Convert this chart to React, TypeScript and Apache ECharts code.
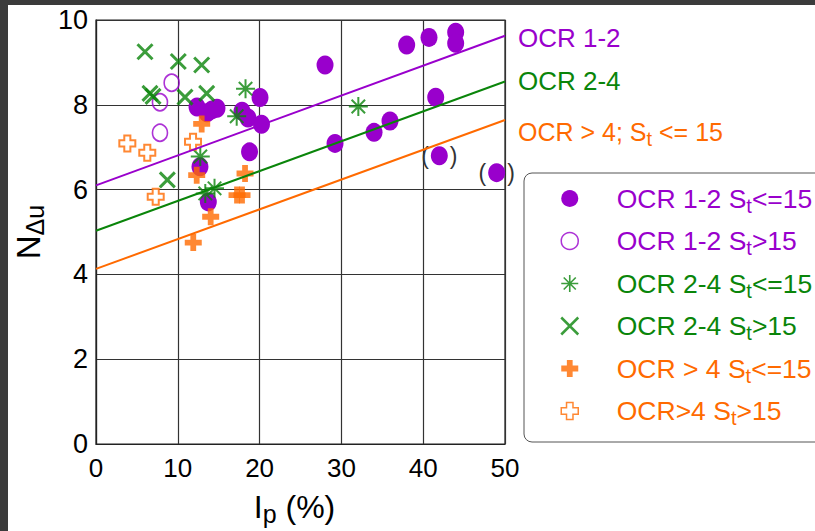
import React, { useEffect, useRef } from 'react';
import * as echarts from 'echarts';

const PURPLE = '#9900cc';
const GREEN = '#0a850a';
const ORANGE = '#ff6a00';
const FONT = '"Liberation Sans", Arial, sans-serif';

const xTickValues = [0, 10, 20, 30, 40, 50];
const yTickValues = [0, 2, 4, 6, 8, 10];

// OCR 1-2, St <= 15 (filled circles)
const ocr12Low: number[][] = [
  [12.35, 7.95], [13.57, 7.81], [14.18, 7.88], [14.79, 7.92], [17.85, 7.85],
  [18.58, 7.69], [20.05, 8.17], [20.23, 7.54], [18.77, 6.89], [12.71, 6.54],
  [13.73, 5.71], [28.0, 8.94], [37.98, 9.41], [40.71, 9.59], [43.97, 9.71],
  [43.97, 9.45], [41.53, 8.18], [29.22, 7.09], [33.99, 7.35], [35.94, 7.62],
];
// OCR 1-2, St <= 15, points shown in parentheses
const ocr12LowParen: number[][] = [[41.97, 6.8], [48.98, 6.4]];
// OCR 1-2, St > 15 (open circles)
const ocr12High: number[][] = [[9.25, 8.52], [7.82, 8.06], [7.82, 7.34]];
// OCR 2-4, St <= 15 (asterisks)
const ocr24Low: number[][] = [
  [18.28, 8.38], [17.2, 7.73], [12.75, 6.78], [13.36, 5.91], [14.49, 6.03], [32.07, 7.96],
];
// OCR 2-4, St > 15 (crosses)
const ocr24High: number[][] = [
  [5.99, 9.25], [10.06, 9.02], [12.92, 8.94], [6.6, 8.27], [6.97, 8.2],
  [10.88, 8.18], [13.53, 8.27], [8.72, 6.23],
];
// OCR > 4, St <= 15 (filled plus)
const ocr4Low: number[][] = [
  [12.92, 7.55], [12.31, 6.34], [18.22, 6.38], [17.24, 5.87], [17.85, 5.87],
  [14.02, 5.36], [11.89, 4.75],
];
// OCR > 4, St > 15 (open plus)
const ocr4High: number[][] = [[3.83, 7.09], [6.27, 6.87], [7.3, 5.83], [11.86, 7.13]];

// trend lines
const trend12: number[][] = [[0, 6.1], [50, 9.63]];
const trend24: number[][] = [[0, 5.03], [50, 8.55]];
const trend4: number[][] = [[0, 4.13], [50, 7.64]];

const seriesNames = [
  'OCR 1-2 St<=15',
  'OCR 1-2 St>15',
  'OCR 2-4 St<=15',
  'OCR 2-4 St>15',
  'OCR > 4 St<=15',
  'OCR>4 St>15',
];

const X_PATH = 'path://M0,0L10,10M10,0L0,10';
const AST_PATH = 'path://M5,0L5,10M0,5L10,5M1.46,1.46L8.54,8.54M8.54,1.46L1.46,8.54';
const PLUS_PATH = 'path://M3.3,0H6.7V3.3H10V6.7H6.7V10H3.3V6.7H0V3.3H3.3Z';
const OPEN_PLUS_PATH = 'path://M3.1,0H6.9V3.1H10V6.9H6.9V10H3.1V6.9H0V3.1H3.1Z';

const subStyle = (color: string, fontSize: number, drop: number) => ({
  color, fontSize, lineHeight: 10, fontFamily: FONT, verticalAlign: 'top', padding: [drop, 0, 0, 0],
});

function buildOption(): any {
  const keys = ['p', 'p', 'g', 'g', 'o', 'o'];
  const cols: Record<string, string> = { p: PURPLE, g: GREEN, o: ORANGE };
  const legendRich: Record<string, any> = {};
  Object.keys(cols).forEach((k) => {
    legendRich[k + '0'] = {
      color: cols[k], fontSize: 26.5, lineHeight: 26, fontFamily: FONT,
      padding: [0, 0, 0, 32], verticalAlign: 'middle',
    };
    legendRich[k] = { color: cols[k], fontSize: 26.5, lineHeight: 26, fontFamily: FONT, verticalAlign: 'middle' };
    legendRich[k + 's'] = subStyle(cols[k], 20, 10);
  });

  const legendIcons: any[] = [
    { icon: 'circle', itemStyle: { color: PURPLE, borderWidth: 0 } },
    { icon: 'circle', itemStyle: { color: '#fff', borderColor: PURPLE, borderWidth: 1.5 } },
    { icon: AST_PATH, itemStyle: { color: GREEN, borderColor: GREEN, borderWidth: 1.6 } },
    { icon: X_PATH, itemStyle: { color: GREEN, borderColor: GREEN, borderWidth: 2.5 } },
    { icon: PLUS_PATH, itemStyle: { color: ORANGE, borderWidth: 0 } },
    { icon: OPEN_PLUS_PATH, itemStyle: { color: '#fff', borderColor: ORANGE, borderWidth: 1.5 } },
  ];

  const parenRich = {
    q: { color: '#333', fontSize: 23, fontFamily: FONT },
    gap: { width: 21 },
  };

  const endLabel = (fmt: string, color: string, offsetY: number, fs: number) => ({
    show: true,
    formatter: fmt,
    distance: 13,
    offset: [0, offsetY],
    color,
    fontSize: fs,
    fontFamily: FONT,
    rich: {
      m: { color, fontSize: fs, lineHeight: 26, fontFamily: FONT, verticalAlign: 'middle' },
      s: subStyle(color, 20, 10),
    },
  });

  return {
    animation: false,
    backgroundColor: '#ffffff',
    textStyle: { fontFamily: FONT },
    grid: {
      left: 88, top: 15, width: 409, height: 424,
      containLabel: false,
      outerBoundsMode: 'none',
      show: true, borderColor: '#222', borderWidth: 1.2, backgroundColor: 'transparent',
    },
    xAxis: {
      type: 'value', min: xTickValues[0], max: xTickValues[xTickValues.length - 1], interval: 10,
      axisLine: { show: true, lineStyle: { color: '#222', width: 1.2 } },
      axisTick: { show: false },
      splitLine: { show: true, lineStyle: { color: '#333', width: 1.2 } },
      axisLabel: { color: '#000', fontSize: 26, fontFamily: FONT, margin: 11 },
      name: '{a|I}{b|p}{c| (%)}',
      nameLocation: 'middle',
      nameGap: 47,
      nameTextStyle: {
        rich: {
          a: { fontSize: 32, lineHeight: 32, color: '#000', fontFamily: FONT, verticalAlign: 'middle' },
          b: subStyle('#000', 25, 10),
          c: { fontSize: 32, lineHeight: 32, color: '#000', fontFamily: FONT, verticalAlign: 'middle', padding: [0, 12, 0, 0] },
        },
      },
    },
    yAxis: {
      type: 'value', min: yTickValues[0], max: yTickValues[yTickValues.length - 1], interval: 2,
      axisLine: { show: true, lineStyle: { color: '#222', width: 1.2 } },
      axisTick: { show: false },
      splitLine: { show: true, lineStyle: { color: '#333', width: 1.2 } },
      axisLabel: { color: '#000', fontSize: 27, fontFamily: FONT, margin: 8 },
      name: '{a|N}{b|Δu}',
      nameLocation: 'middle',
      nameGap: 51,
      nameTextStyle: {
        rich: {
          a: { fontSize: 33, lineHeight: 32, color: '#000', fontFamily: FONT, verticalAlign: 'middle' },
          b: subStyle('#000', 25, 10),
        },
      },
    },
    legend: {
      orient: 'vertical',
      left: 516,
      top: 168,
      padding: [12, 40, 14, 36],
      itemWidth: 20,
      itemHeight: 17,
      itemGap: 12,
      borderColor: '#555',
      borderWidth: 1,
      borderRadius: 8,
      backgroundColor: '#fff',
      selectedMode: false,
      data: seriesNames.map((name, i) => ({ name, ...legendIcons[i] })),
      formatter: (name: string) => {
        const i = seriesNames.indexOf(name);
        const k = keys[i];
        const parts = name.split('St');
        return `{${k}0|${parts[0]}S}{${k}s|t}{${k}|${parts[1]}}`;
      },
      textStyle: { fontSize: 26.5, fontFamily: FONT, rich: legendRich },
    },
    series: [
      {
        name: seriesNames[0], type: 'scatter', symbol: 'circle', symbolSize: [17, 19],
        itemStyle: { color: PURPLE, opacity: 1 },
        data: [
          ...ocr12Low,
          ...ocr12LowParen.map((p) => ({
            value: p,
            label: {
              show: true, position: 'inside', formatter: '{q|(}{gap|}{q|)}', rich: parenRich,
            },
          })),
        ],
        z: 2,
      },
      {
        name: seriesNames[1], type: 'scatter', symbol: 'circle', symbolSize: [15, 17],
        itemStyle: { color: 'rgba(255,255,255,0)', borderColor: PURPLE, borderWidth: 1.7 },
        data: ocr12High, z: 3,
      },
      {
        name: seriesNames[2], type: 'scatter', symbol: AST_PATH, symbolSize: 19,
        itemStyle: { color: GREEN, borderColor: GREEN, borderWidth: 2 },
        data: ocr24Low, z: 4,
      },
      {
        name: seriesNames[3], type: 'scatter', symbol: X_PATH, symbolSize: 15,
        itemStyle: { color: GREEN, borderColor: GREEN, borderWidth: 3 },
        data: ocr24High, z: 4,
      },
      {
        name: seriesNames[4], type: 'scatter', symbol: PLUS_PATH, symbolSize: 17,
        itemStyle: { color: ORANGE },
        data: ocr4Low, z: 5,
      },
      {
        name: seriesNames[5], type: 'scatter', symbol: OPEN_PLUS_PATH, symbolSize: 16,
        itemStyle: { color: '#fff', borderColor: ORANGE, borderWidth: 2 },
        data: ocr4High, z: 5,
      },
      {
        name: 'trend 1-2', type: 'line', data: trend12, showSymbol: false, symbol: 'none',
        lineStyle: { color: PURPLE, width: 2 }, z: 6,
        endLabel: endLabel('{m|OCR 1-2}', PURPLE, 2, 26),
      },
      {
        name: 'trend 2-4', type: 'line', data: trend24, showSymbol: false, symbol: 'none',
        lineStyle: { color: GREEN, width: 2 }, z: 6,
        endLabel: endLabel('{m|OCR 2-4}', GREEN, 0, 26),
      },
      {
        name: 'trend >4', type: 'line', data: trend4, showSymbol: false, symbol: 'none',
        lineStyle: { color: ORANGE, width: 2 }, z: 6,
        endLabel: endLabel('{m|OCR > 4; S}{s|t}{m| <= 15}', ORANGE, 12, 25),
      },
    ],
  };
}

export default function App() {
  const ref = useRef<HTMLDivElement>(null);
  useEffect(() => {
    if (!ref.current) return;
    const chart = echarts.init(ref.current, null, { renderer: 'svg' });
    chart.setOption(buildOption());
    return () => chart.dispose();
  }, []);
  return (
    <div style={{ position: 'fixed', left: 0, top: 0, width: 815, height: 531, background: '#3b3b3b', overflow: 'hidden' }}>
      <div ref={ref} style={{ position: 'absolute', left: 8, top: 5, width: 807, height: 526, background: '#fff' }} />
    </div>
  );
}
